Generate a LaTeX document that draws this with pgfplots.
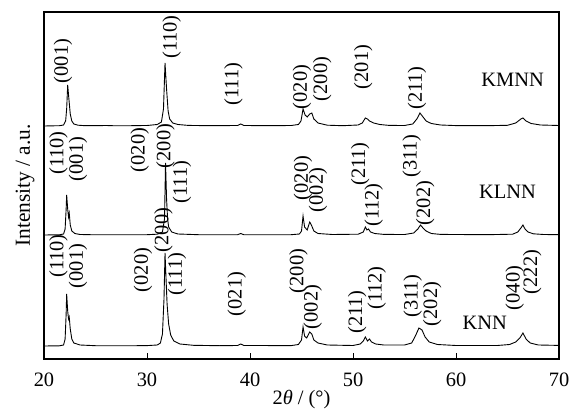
\documentclass[border=0pt]{standalone}
\usepackage{pgfplots}
\pgfplotsset{compat=1.18}
\usepackage{fontspec}
\setmainfont{Liberation Serif}
\begin{document}
\begin{tikzpicture}[font=\fontsize{20.5}{22}\selectfont]
\useasboundingbox (-44bp,-51bp) rectangle (534bp,359bp);
\begin{axis}[
  scale only axis, width=515bp, height=347bp,
  xmin=20, xmax=70, ymin=0, ymax=347,
  xtick={20,30,40,50,60,70}, ytick=\empty,
  xtick pos=bottom, tick align=inside, major tick length=6bp,
  axis line style={line width=1.1pt}, tick style={line width=1pt, black},
  /pgf/number format/assume math mode=true,
  xticklabel style={anchor=base, yshift=-27bp},
  xlabel={2\textit{θ} / (°)},
  xlabel style={at={(axis description cs:0.5,0)}, anchor=base, yshift=-45bp},
  ylabel={Intensity / a.u.},
  ylabel style={at={(axis description cs:-0.0369,0.5)}, anchor=center, font=\fontsize{21.5}{22}\selectfont},
  cycle list={{black, line width=0.9pt, mark=none}},
  clip=false,
]
% KMNN
\addplot[black, line width=0.9pt, mark=none] coordinates {
(20,233)(21.5,233.3)(21.9,234)(22.1,238)(22.2,250)(22.3,274)(22.4,262)(22.55,245)(22.7,238)(22.9,235)(23.3,233.8)(24,233.3)(25,233.3)(26,233.5)(27,233.2)(28,233.2)(29,233.4)(30,233.5)(31,234.5)(31.4,237)(31.6,250)(31.75,296)(31.9,270)(32.05,248)(32.2,240)(32.5,236)(33,234.5)(34,233.6)(36,233.3)(38.8,233.5)(39.1,235)(39.4,233.5)(42,233.3)(44,233.5)(44.7,234.5)(44.95,238)(45.15,250)(45.35,244)(45.55,242)(45.8,245)(46.0,246)(46.2,240)(46.6,236)(47.5,233.8)(49,233.3)(50.5,234)(50.9,236)(51.2,241)(51.4,240)(51.6,238)(52,236)(52.6,234.5)(53.5,233.6)(55,233.5)(55.8,235)(56.2,240)(56.5,246)(56.8,242)(57.1,238)(57.6,235.5)(58.5,234)(60,233.4)(63,233.3)(65,233.7)(65.8,236)(66.3,240)(66.5,241)(66.8,238)(67.3,235.5)(68.2,234)(70,233.5)
};
% KLNN
\addplot[black, line width=0.9pt, mark=none] coordinates {
(20,124)(21.5,124.2)(21.9,125)(22.05,130)(22.15,150)(22.2,164)(22.3,150)(22.38,142)(22.45,146)(22.55,134)(22.7,128)(23,125.5)(23.5,124.5)(25,124.2)(28,124.2)(30,124.3)(31,124.8)(31.5,127)(31.7,140)(31.8,196)(31.9,160)(32.0,140)(32.1,132)(32.4,127)(33,125)(35,124.3)(38.8,124.3)(39.1,125.5)(39.4,124.3)(44,124.3)(44.8,125)(45.0,128)(45.15,143)(45.3,132)(45.55,129)(45.8,137)(46.0,133)(46.2,128)(46.6,125.5)(48,124.5)(50.5,124.8)(51.0,127)(51.2,132)(51.35,129)(51.5,130)(51.7,127)(52.1,125.5)(53,124.6)(55,124.5)(55.9,126)(56.3,130)(56.55,134)(56.8,131)(57.1,128)(57.6,125.5)(58.5,124.6)(63,124.3)(65.5,124.8)(66.0,127)(66.3,131)(66.5,134)(66.7,130)(67.0,127)(67.5,125.2)(68.5,124.5)(70,124.3)
};
% KNN
\addplot[black, line width=0.9pt, mark=none] coordinates {
(20,13)(21.5,13.2)(21.9,14)(22.05,20)(22.15,45)(22.2,65)(22.3,48)(22.38,40)(22.45,42)(22.55,30)(22.7,20)(22.9,16)(23.5,14)(25,13.3)(28,13.2)(30,13.4)(31,14)(31.3,16)(31.5,25)(31.65,60)(31.75,106)(31.85,80)(31.95,55)(32.1,35)(32.3,24)(32.6,18)(33.2,15)(34.5,13.7)(37,13.3)(38.8,13.5)(39.1,15)(39.4,13.5)(44,13.4)(44.7,14.5)(45.0,19)(45.15,32)(45.3,23)(45.5,21)(45.8,27)(46.0,25)(46.2,19)(46.6,16)(47.5,14)(50,13.5)(50.7,15)(51.0,18)(51.2,22)(51.4,18)(51.6,20)(51.8,17)(52.2,15)(53,14)(55,14)(55.7,16)(56.1,24)(56.4,31)(56.7,29)(57.0,22)(57.4,17)(58.2,14.5)(60,13.5)(64,13.5)(65.2,14.5)(65.8,17)(66.2,21)(66.5,26)(66.8,20)(67.2,16)(68,14)(70,13.6)
};
% KMNN labels
\node[rotate=90] at (axis cs:21.85,298) {(001)};
\node[rotate=90] at (axis cs:32.4,322) {(110)};
\node[rotate=90] at (axis cs:38.4,275) {(111)};
\node[rotate=90] at (axis cs:45.05,272) {(020)};
\node[rotate=90] at (axis cs:47.0,280) {(200)};
\node[rotate=90] at (axis cs:51.0,292) {(201)};
\node[rotate=90] at (axis cs:56.2,271) {(211)};
\node at (axis cs:65.5,279) {KMNN};
% KLNN labels
\node[rotate=90] at (axis cs:21.4,206) {(110)};
\node[rotate=90] at (axis cs:23.3,200) {(001)};
\node[rotate=90] at (axis cs:29.3,209) {(020)};
\node[rotate=90] at (axis cs:31.8,213) {(200)};
\node[rotate=90] at (axis cs:33.4,177) {(111)};
\node[rotate=90] at (axis cs:45.15,181) {(020)};
\node[rotate=90] at (axis cs:46.6,169) {(002)};
\node[rotate=90] at (axis cs:50.7,195) {(211)};
\node[rotate=90] at (axis cs:52.0,154) {(112)};
\node[rotate=90] at (axis cs:55.7,203) {(311)};
\node[rotate=90] at (axis cs:57.0,156) {(202)};
\node at (axis cs:65.0,167) {KLNN};
% KNN labels
\node[rotate=90] at (axis cs:21.4,103) {(110)};
\node[rotate=90] at (axis cs:23.3,93) {(001)};
\node[rotate=90] at (axis cs:29.6,89) {(020)};
\node[rotate=90] at (axis cs:31.6,129) {(200)};
\node[rotate=90] at (axis cs:32.9,85) {(111)};
\node[rotate=90] at (axis cs:38.7,65) {(021)};
\node[rotate=90] at (axis cs:44.7,88) {(200)};
\node[rotate=90] at (axis cs:46.1,52) {(002)};
\node[rotate=90] at (axis cs:50.4,47) {(211)};
\node[rotate=90] at (axis cs:52.3,71) {(112)};
\node[rotate=90] at (axis cs:55.8,63) {(311)};
\node[rotate=90] at (axis cs:57.7,55) {(202)};
\node[rotate=90] at (axis cs:65.7,71) {(040)};
\node[rotate=90] at (axis cs:67.4,87) {(222)};
\node at (axis cs:62.8,36) {KNN};
\end{axis}
\end{tikzpicture}
\end{document}
